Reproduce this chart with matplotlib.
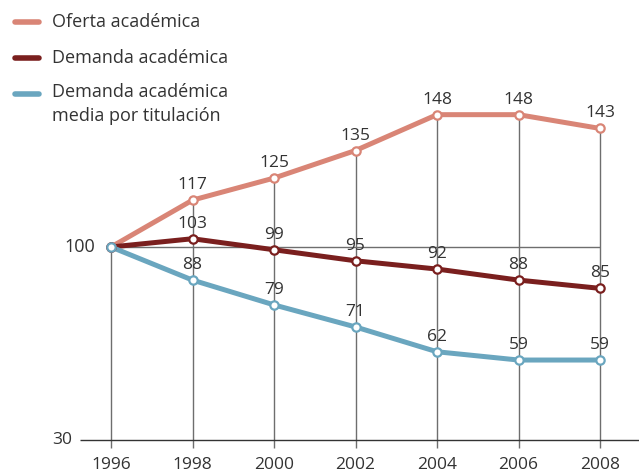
import matplotlib
matplotlib.use('Agg')
import matplotlib.pyplot as plt

plt.rcParams['font.family'] = ['Open Sans', 'DejaVu Sans']

# datos (índice 1996 = 100)
years = [1996, 1998, 2000, 2002, 2004, 2006, 2008]
oferta = [100, 117, 125, 135, 148, 148, 143]
demanda = [100, 103, 99, 95, 92, 88, 85]
demanda_media = [100, 88, 79, 71, 62, 59, 59]
y_ticks = [30, 100]

series_names = ['Oferta académica', 'Demanda académica',
                'Demanda académica\nmedia por titulación']
colors = ['#D98576', '#7A1F1E', '#6AA6BF']
grid_col = '#6e6e6e'
text_col = '#333333'

fig = plt.figure(figsize=(6.39, 4.76), dpi=100)
ax = fig.add_axes([0, 0, 1, 1])
px_x = 40.75   # pixels per year
px_y = 2.757   # pixels per unit
ax.set_xlim(1996 - 111 / px_x, 1996 + 528 / px_x)
ax.set_ylim(100 - 229 / px_y, 100 + 247 / px_y)
ax.axis('off')

# rejilla vertical hasta el valor máximo de cada año
tops = [max(a, b, c) for a, b, c in zip(oferta, demanda, demanda_media)]
ax.vlines(years, y_ticks[0] - 8 / px_y, tops, color=grid_col, lw=1, zorder=1)
ax.hlines(100, years[0], years[-1], color=grid_col, lw=1, zorder=1)
ax.hlines(y_ticks[0], 1996 - 31 / px_x, ax.get_xlim()[1], color='#333333', lw=1, zorder=1)

label_off = {30: 39, 100: 16}
for t in y_ticks:
    ax.text(1996 - label_off[t] / px_x, t, str(t),
            ha='right', va='center', fontsize=13 if t == 100 else 12.5, color=text_col)
for yr in years:
    ax.text(yr, y_ticks[0] - 17 / px_y, str(yr), ha='center', va='top',
            fontsize=12.5, color=text_col)

for vals, col in zip([oferta, demanda, demanda_media], colors):
    ax.plot(years, vals, color=col, lw=3.6, solid_capstyle='round', zorder=3)
    ax.plot(years, vals, 'o', ms=6, mfc='white', mec=col, mew=1.6, zorder=4)
    for yr, v in zip(years[1:], vals[1:]):
        ax.text(yr, v + 7 / px_y, str(v), ha='center', va='bottom',
                fontsize=12.5, color=text_col, zorder=5)

# leyenda manual
leg_y = [22, 58, 94]
for name, col, yy in zip(series_names, colors, leg_y):
    yv = 100 + (247 - yy) / px_y
    x0 = 1996 - (111 - 15) / px_x
    x1 = 1996 - (111 - 39) / px_x
    ax.plot([x0, x1], [yv, yv], color=col, lw=4, solid_capstyle='round')
    ax.text(1996 - (111 - 52) / px_x, yv + (11 / px_y if '\n' in name else 0), name,
            ha='left', va='top' if '\n' in name else 'center',
            fontsize=13, color=text_col, linespacing=1.4)

fig.savefig('out.png', dpi=100)
